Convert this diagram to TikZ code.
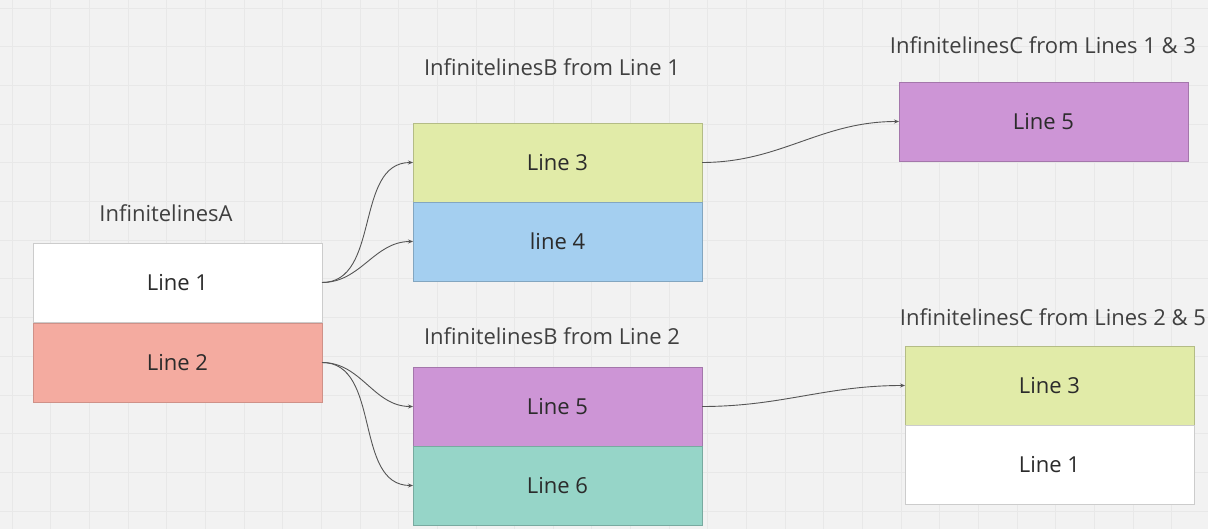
\documentclass[tikz,border=0pt]{standalone}
\usepackage{fontspec}
\setmainfont{Open Sans}
\usetikzlibrary{arrows.meta}
\definecolor{board}{HTML}{F2F2F2}
\definecolor{gridline}{HTML}{E8E8E8}
\definecolor{inkdark}{HTML}{2B2B2B}
\definecolor{wire}{HTML}{555555}
\definecolor{cwhite}{HTML}{FFFFFF}
\definecolor{csalmon}{HTML}{F4ABA0}
\definecolor{clime}{HTML}{E1EBA8}
\definecolor{cblue}{HTML}{A4CFF0}
\definecolor{cviolet}{HTML}{CD95D6}
\definecolor{cteal}{HTML}{96D5C8}
\tikzset{
  rowbox/.style={draw=black!20, line width=0.8pt, minimum width=289pt, minimum height=79pt,
    inner sep=0pt, outer sep=0pt, anchor=north west, text=inkdark, font=\fontsize{22}{24}\selectfont},
  title/.style={text=inkdark!90, font=\fontsize{22}{24}\selectfont, inner sep=0pt},
  link/.style={draw=wire, line width=0.9pt, -{Stealth[length=5pt,width=4pt]}, out=0, in=180}
}
\begin{document}
\begin{tikzpicture}[x=1pt,y=-1pt]
  % board and grid
  \fill[board] (0,0) rectangle (1208,529);
  \useasboundingbox (0,0) rectangle (1208,529);
  \foreach \k in {0,...,31} {
    \draw[gridline, line width=0.8pt] ({12.1+38.65*\k},0) -- ({12.1+38.65*\k},529);
  }
  \foreach \k in {0,...,13} {
    \draw[gridline, line width=0.8pt] (0,{8+38.7*\k}) -- (1208,{8+38.7*\k});
  }

  % group A
  \node[title] (tA) at (166,213) {InfinitelinesA};
  \node[rowbox, fill=cwhite] (a1) at (33,243) {Line 1};
  \node[rowbox, fill=csalmon, draw=csalmon!85!black] (a2) at (33,323) {Line 2};

  % group B from line 1
  \node[title] (tB1) at (552,67) {InfinitelinesB from Line 1};
  \node[rowbox, fill=clime, draw=clime!80!black] (b3) at (413,123) {Line 3};
  \node[rowbox, fill=cblue, draw=cblue!80!black] (b4) at (413,202) {line 4};

  % group B from line 2
  \node[title] (tB2) at (552,336) {InfinitelinesB from Line 2};
  \node[rowbox, fill=cviolet, draw=cviolet!80!black] (b5) at (413,367) {Line 5};
  \node[rowbox, fill=cteal, draw=cteal!80!black] (b6) at (413,446) {Line 6};

  % group C from lines 1 & 3
  \node[title] (tC1) at (1043,45) {InfinitelinesC from Lines 1 \& 3};
  \node[rowbox, fill=cviolet, draw=cviolet!80!black] (c5) at (899,82) {Line 5};

  % group C from lines 2 & 5
  \node[title] (tC2) at (1053,317) {InfinitelinesC from Lines 2 \& 5};
  \node[rowbox, fill=clime, draw=clime!80!black] (c3) at (905,346) {Line 3};
  \node[rowbox, fill=cwhite] (c1) at (905,425) {Line 1};

  % connectors
  \draw[link] (a1.east) to (b3.west);
  \draw[link] (a1.east) to (b4.west);
  \draw[link] (a2.east) to (b5.west);
  \draw[link] (a2.east) to (b6.west);
  \draw[link] (b3.east) to (c5.west);
  \draw[link] (b5.east) to (c3.west);
\end{tikzpicture}
\end{document}
